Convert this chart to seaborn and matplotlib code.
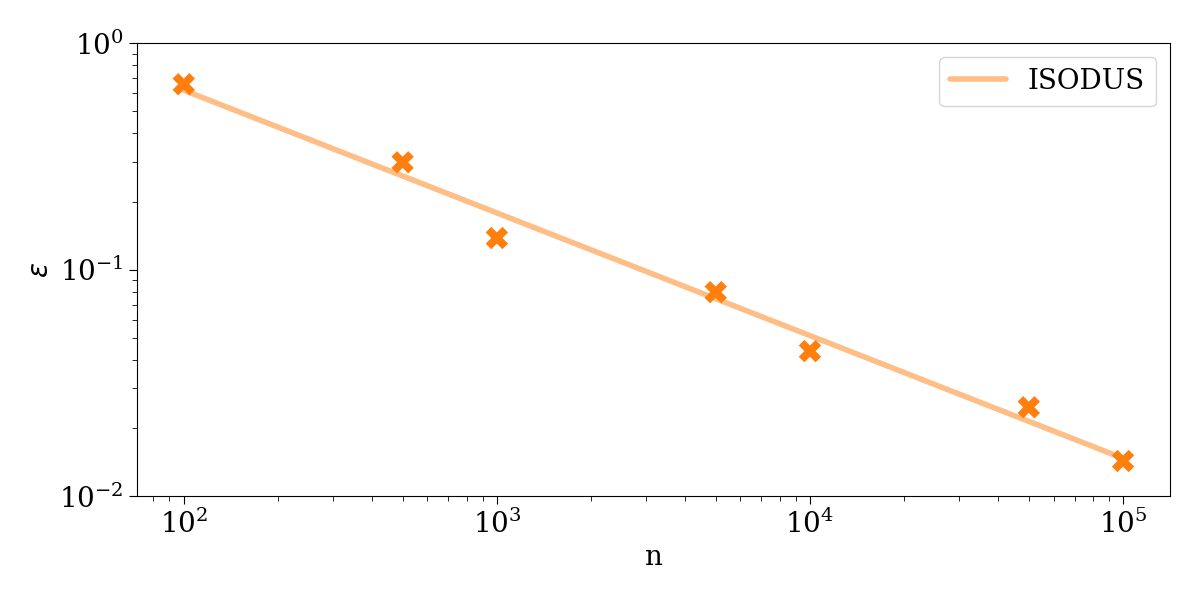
import numpy as np
import pandas as pd
import matplotlib
matplotlib.use('Agg')
import matplotlib.pyplot as plt
import seaborn as sns

n_values = [100, 500, 1000, 5000, 10000, 50000, 100000]
eps_values = [0.659, 0.298, 0.138, 0.0796, 0.0437, 0.0247, 0.0143]

# fitted line at both ends
fit_n = [100, 100000]
fit_eps = [0.620, 0.0147]

sns.set_style('ticks', {'axes.edgecolor': 'black', 'xtick.color': 'black',
                        'ytick.color': 'black', 'text.color': 'black',
                        'axes.labelcolor': 'black'})
plt.rcParams['font.family'] = ['DejaVu Serif']
plt.rcParams['mathtext.fontset'] = 'dejavusans'

df = pd.DataFrame({'n': n_values, 'eps': eps_values})
fit_df = pd.DataFrame({'n': fit_n, 'eps': fit_eps})

fig, ax = plt.subplots(figsize=(12, 6), dpi=100)
fig.subplots_adjust(left=0.114, right=0.975, top=0.928, bottom=0.173)

sns.lineplot(x='n', y='eps', data=fit_df, ax=ax, color='#ff7f0e', alpha=0.5,
             linewidth=4, label='ISODUS', zorder=2)
sns.scatterplot(x='n', y='eps', data=df, ax=ax, color='#ff7f0e', marker='X',
                s=260, edgecolor='none', zorder=3)

ax.set_xscale('log')
ax.set_yscale('log')
ax.set_ylim(0.01, 1)
ax.set_xlabel('n', fontsize=20)
ax.set_ylabel(r'$\varepsilon$', fontsize=20)
ax.tick_params(axis='both', which='major', labelsize=20, length=6)
ax.tick_params(axis='both', which='minor', length=3.5)
ax.legend(fontsize=20, loc='upper right')

fig.savefig('out.png', dpi=100)
